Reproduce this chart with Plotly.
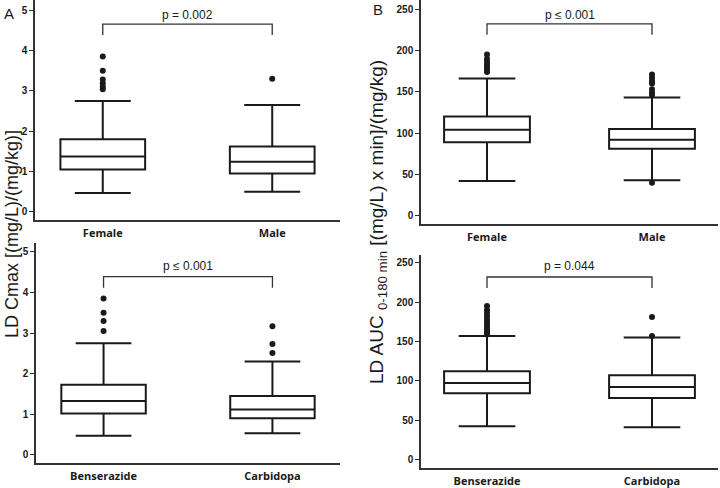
# box plots of LD Cmax / AUC split by sex and by inhibitor
import plotly.graph_objects as go

# ---- data ----
sex_groups = ["Female", "Male"]
drug_groups = ["Benserazide", "Carbidopa"]

# Cmax by sex
cmax_sex_low = [0.47, 0.50]
cmax_sex_q1 = [1.05, 0.95]
cmax_sex_med = [1.37, 1.24]
cmax_sex_q3 = [1.80, 1.62]
cmax_sex_high = [2.75, 2.65]
cmax_sex_out_female = [3.04, 3.10, 3.19, 3.28, 3.50, 3.85]
cmax_sex_out_male = [3.30]

# Cmax by inhibitor
cmax_drug_low = [0.47, 0.53]
cmax_drug_q1 = [1.02, 0.90]
cmax_drug_med = [1.33, 1.12]
cmax_drug_q3 = [1.73, 1.45]
cmax_drug_high = [2.75, 2.30]
cmax_drug_out_benser = [3.05, 3.30, 3.50, 3.85]
cmax_drug_out_carbi = [2.51, 2.73, 3.17]

# AUC by sex
auc_sex_low = [42, 43]
auc_sex_q1 = [89, 81]
auc_sex_med = [104, 92]
auc_sex_q3 = [120, 105]
auc_sex_high = [166, 143]
auc_sex_out_female = [174, 177, 180, 183, 186, 190, 195]
auc_sex_out_male = [40, 146, 149, 153, 160, 163, 167, 171]

# AUC by inhibitor
auc_drug_low = [42, 41]
auc_drug_q1 = [84, 78]
auc_drug_med = [97, 92]
auc_drug_q3 = [112, 107]
auc_drug_high = [157, 155]
auc_drug_out_benser = [159, 162, 165, 168, 171, 174, 178, 182, 186, 190, 195]
auc_drug_out_carbi = [157, 181]

p_labels = ["p = 0.002", "p \u2264 0.001", "p \u2264 0.001", "p = 0.044"]

INK = "#1a1a1a"
W = 720
H = 488

fig = go.Figure()

panels = [
    # axis suffix, groups, stats, outliers, y range, bracket (legs, bar, text), box width
    ("", sex_groups, (cmax_sex_low, cmax_sex_q1, cmax_sex_med, cmax_sex_q3, cmax_sex_high),
     (cmax_sex_out_female, cmax_sex_out_male), [-0.2, 5.25], (4.38, 4.65, 4.88), p_labels[0], 0.5),
    ("2", drug_groups, (cmax_drug_low, cmax_drug_q1, cmax_drug_med, cmax_drug_q3, cmax_drug_high),
     (cmax_drug_out_benser, cmax_drug_out_carbi), [-0.2, 5.22], (4.12, 4.39, 4.65), p_labels[1], 0.5),
    ("3", sex_groups, (auc_sex_low, auc_sex_q1, auc_sex_med, auc_sex_q3, auc_sex_high),
     (auc_sex_out_female, auc_sex_out_male), [-10, 261], (219, 232, 243), p_labels[2], 0.52),
    ("4", drug_groups, (auc_drug_low, auc_drug_q1, auc_drug_med, auc_drug_q3, auc_drug_high),
     (auc_drug_out_benser, auc_drug_out_carbi), [-11, 260], (218, 232, 246), p_labels[3], 0.52),
]

# pixel boxes of each plot area: x0, x1, top, bottom
areas = [(35, 340, 0, 220), (36, 340, 243, 463), (421, 718, 0, 224), (421, 718, 255, 468)]

for (sfx, groups, stats, outs, yr, brk, ptxt, bw), (x0, x1, top, bot) in zip(panels, areas):
    xa = "x" + sfx
    ya = "y" + sfx
    low, q1, med, q3, high = stats

    fig.add_trace(go.Box(
        x=groups, q1=q1, median=med, q3=q3, lowerfence=low, upperfence=high,
        xaxis=xa, yaxis=ya, width=bw, whiskerwidth=0.66,
        fillcolor="white", line=dict(color=INK, width=2), boxpoints=False,
        showlegend=False
    ))

    for g, vals in zip(groups, outs):
        fig.add_trace(go.Scatter(
            x=[g] * len(vals), y=vals, mode="markers", xaxis=xa, yaxis=ya,
            marker=dict(color=INK, size=6), showlegend=False
        ))

    # significance bracket
    fig.add_trace(go.Scatter(
        x=[groups[0], groups[0], groups[1], groups[1]],
        y=[brk[0], brk[1], brk[1], brk[0]],
        mode="lines", xaxis=xa, yaxis=ya,
        line=dict(color="#333333", width=1.3), showlegend=False
    ))
    fig.add_annotation(
        x=0.5, y=brk[2], xref=xa, yref=ya, text=ptxt, showarrow=False,
        xanchor="center", yanchor="middle",
        font=dict(family="Liberation Sans, Arial", size=12, color=INK)
    )

    key = "xaxis" + sfx
    fig.layout[key] = dict(
        domain=[x0 / W, x1 / W], anchor=ya, type="category", automargin=False,
        range=[-0.4, 1.4], showline=True, linecolor="#333333", linewidth=1.5,
        ticks="", showgrid=False, zeroline=False, ticklabelstandoff=2,
        tickfont=dict(family="Open Sans", size=11, color=INK, weight="bold")
    )
    fig.layout["yaxis" + sfx] = dict(
        domain=[1 - bot / H, 1 - top / H], anchor=xa, range=yr, automargin=False,
        showline=True, linecolor="#333333", linewidth=1.5,
        ticks="outside", ticklen=4, tickwidth=1.3, tickcolor="#333333",
        showgrid=False, zeroline=False,
        dtick=1 if sfx in ("", "2") else 50,
        tickfont=dict(family="Liberation Sans, Arial", size=10, color=INK, weight="bold")
    )

# y axis titles and panel letters
fig.add_annotation(
    x=12 / W, y=1 - 234 / H, xref="paper", yref="paper", textangle=-90,
    xanchor="center", yanchor="middle",
    text="LD Cmax [(mg/L)/(mg/kg)]", showarrow=False,
    font=dict(family="Liberation Sans, Arial", size=18, color=INK)
)
fig.add_annotation(
    x=378 / W, y=1 - 222 / H, xref="paper", yref="paper", textangle=-90,
    xanchor="center", yanchor="middle",
    text="LD AUC <sub>0-180 min</sub> [(mg/L) x min]/(mg/kg)", showarrow=False,
    font=dict(family="Liberation Sans, Arial", size=19, color=INK)
)
fig.add_annotation(
    x=9 / W, y=1 - 13 / H, xref="paper", yref="paper", text="A", showarrow=False,
    xanchor="center", yanchor="middle",
    font=dict(family="Liberation Sans, Arial", size=15, color=INK)
)
fig.add_annotation(
    x=378 / W, y=1 - 10 / H, xref="paper", yref="paper", text="B", showarrow=False,
    xanchor="center", yanchor="middle",
    font=dict(family="Liberation Sans, Arial", size=15, color=INK)
)

fig.update_layout(
    width=W, height=H, margin=dict(l=0, r=0, t=0, b=0),
    plot_bgcolor="white", paper_bgcolor="white"
)

# drop the browser's default body margin so the figure sits at the page corner
fig.write_html("out.html", config={"displayModeBar": False},
               post_script="document.body.style.margin='0';")
